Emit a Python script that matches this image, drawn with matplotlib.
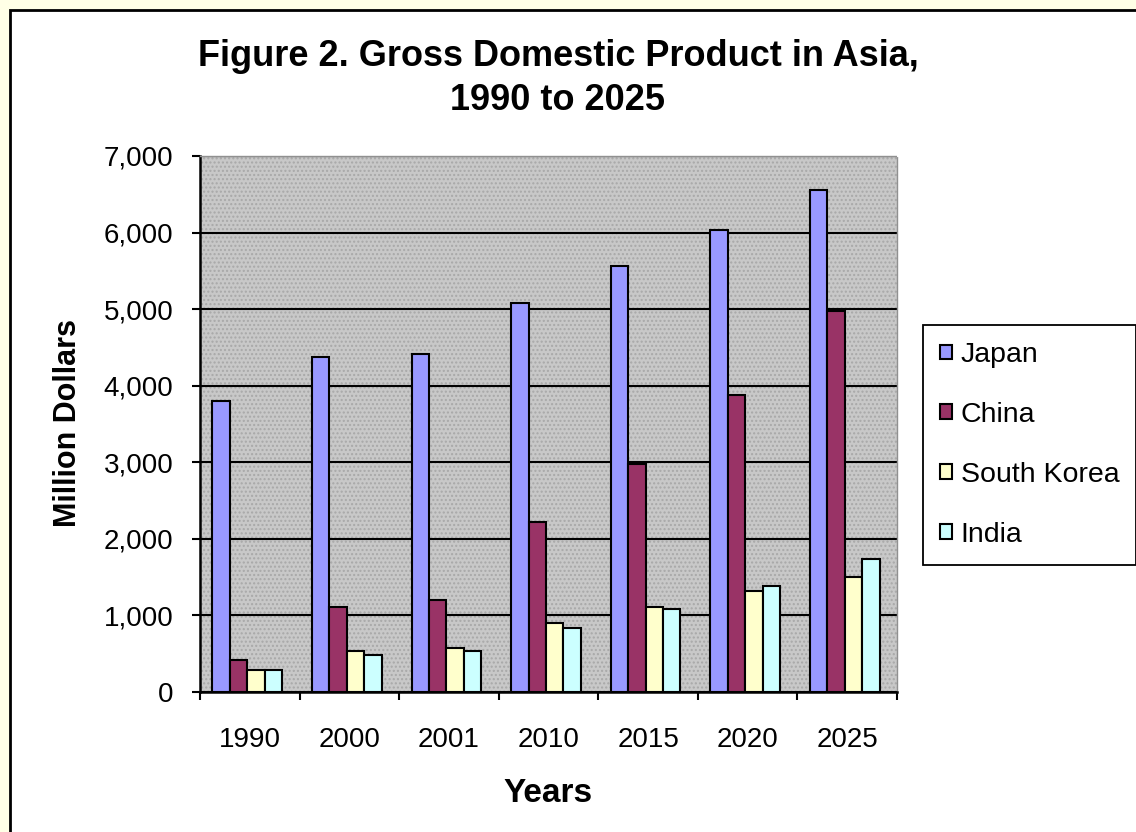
import numpy as np
import matplotlib
matplotlib.use('Agg')
import matplotlib.pyplot as plt
from matplotlib.patches import Rectangle
from matplotlib.ticker import FuncFormatter

# values (million dollars)
years = ['1990', '2000', '2001', '2010', '2015', '2020', '2025']
countries = ['Japan', 'China', 'South Korea', 'India']
japan = [3800, 4380, 4420, 5080, 5560, 6040, 6550]
china = [420, 1110, 1200, 2220, 2980, 3880, 4980]
south_korea = [290, 540, 570, 900, 1110, 1320, 1500]
india = [290, 480, 540, 840, 1080, 1380, 1740]
colors = ['#9999FF', '#993366', '#FFFFCC', '#CCFFFF']

W, H = 1136, 832
plt.rcParams['font.family'] = ['Liberation Sans', 'DejaVu Sans']

fig = plt.figure(figsize=(W / 100, H / 100), dpi=100)
fig.patch.set_facecolor('#FFFFE6')

# white chart area with black border
fig.patches.append(Rectangle((10 / W, -0.05), 1.1, 1 - 10 / H + 0.05, transform=fig.transFigure,
                             facecolor='white', edgecolor='black', lw=2, zorder=-5))

ax = fig.add_axes([200 / W, 1 - 692 / H, 697 / W, 536 / H])
ax.set_facecolor('#C8C8C8')
ax.add_patch(Rectangle((0, 0), 1, 1, transform=ax.transAxes, facecolor='none',
                       edgecolor='#A8A8A8', hatch='....', lw=0, zorder=0))

x = np.arange(len(years))
width = 0.175
shift = -0.025
series = [japan, china, south_korea, india]
for i, (vals, c, name) in enumerate(zip(series, colors, countries)):
    ax.bar(x + shift + (i - 1.5) * width, vals, width, color=c, edgecolor='black',
           linewidth=1.5, label=name, zorder=3)

ax.set_xlim(-0.5, len(years) - 0.5)
ax.set_ylim(0, 7000)
ax.set_yticks(np.arange(0, 7001, 1000))
ax.yaxis.set_major_formatter(FuncFormatter(lambda v, p: f'{int(v):,}'))
ax.grid(axis='y', color='black', linewidth=1.5, zorder=1)
ax.set_axisbelow(True)

ax.set_xticks(np.arange(-0.5, len(years), 1.0))
ax.set_xticklabels([])
ax.set_xticks(x, minor=True)
ax.set_xticklabels(years, minor=True)
ax.tick_params(axis='x', which='major', length=6, width=1.5, direction='out')
ax.tick_params(axis='x', which='minor', length=0, pad=25, labelsize=20)
ax.tick_params(axis='y', length=6, width=1.5, pad=13, labelsize=20)

for s in ['left', 'bottom']:
    ax.spines[s].set_linewidth(1.8)
    ax.spines[s].set_color('black')
for s in ['top', 'right']:
    ax.spines[s].set_color('#909090')
    ax.spines[s].set_linestyle((0, (1, 1)))
    ax.spines[s].set_linewidth(1)

fig.text(558 / W, 1 - 56 / H, 'Figure 2. Gross Domestic Product in Asia,', ha='center', va='center',
         fontsize=26, fontweight='bold')
fig.text(558 / W, 1 - 101 / H, '1990 to 2025', ha='center', va='center', fontsize=26, fontweight='bold')
fig.text(68 / W, 1 - 423 / H, 'Million Dollars', ha='center', va='center', rotation=90,
         fontsize=22, fontweight='bold')
fig.text(548 / W, 1 - 793 / H, 'Years', ha='center', va='center', fontsize=24, fontweight='bold')

leg = ax.legend(loc='upper left', bbox_to_anchor=(923 / W, 1 - 325 / H), bbox_transform=fig.transFigure,
                borderaxespad=0, fontsize=20.5, handlelength=0.42, handleheight=0.42, handletextpad=0.3,
                labelspacing=1.19, borderpad=0.6, fancybox=False, framealpha=1, edgecolor='black')
leg.get_frame().set_linewidth(1.3)

fig.savefig('out.png', dpi=100, facecolor=fig.get_facecolor())
